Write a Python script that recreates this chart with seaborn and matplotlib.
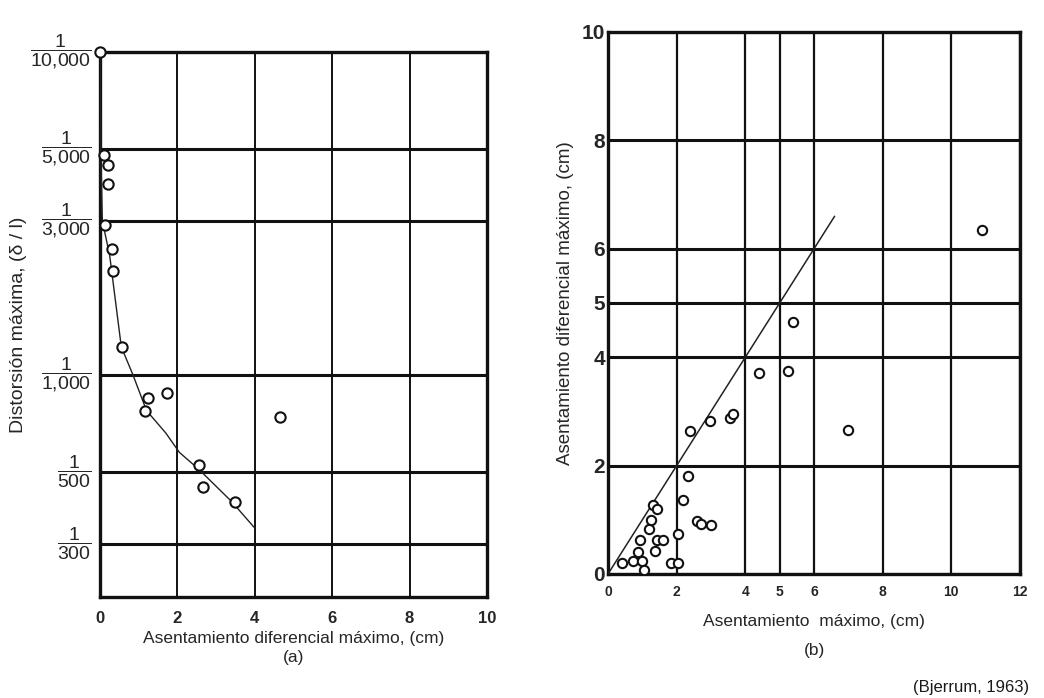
import matplotlib
matplotlib.use("Agg")
import matplotlib.pyplot as plt
import seaborn as sns
import numpy as np
from matplotlib.ticker import NullLocator

# ---------------- data ----------------
# Panel (a): max differential settlement (cm) vs max distortion 1/N
a_settle = [0.0, 0.10, 0.20, 0.20, 0.13, 0.30, 0.33, 0.58, 1.23, 1.16, 1.72, 4.64, 2.55, 2.65, 3.50]
a_denom = [10000, 4800, 4450, 3900, 2900, 2450, 2100, 1220, 850, 770, 880, 740, 525, 450, 405]
a_curve_settle = [0.0, 0.02, 0.06, 0.25, 0.55, 0.85, 1.20, 1.70, 2.05, 2.55, 3.40, 4.00]
a_curve_denom = [10000, 5000, 3000, 2340, 1220, 1000, 775, 660, 575, 510, 405, 335]
a_ytick_denoms = [10000, 5000, 3000, 1000, 500, 300]
a_ytick_texts = ["10{,}000", "5{,}000", "3{,}000", "1{,}000", "500", "300"]
a_xticks = [0, 2, 4, 6, 8, 10]

# Panel (b): max settlement (cm) vs max differential settlement (cm)
b_settle = [0.41, 0.74, 0.87, 0.94, 0.99, 1.06, 1.18, 1.26, 1.32, 1.42, 1.37, 1.42, 1.61,
            1.84, 2.03, 2.03, 2.17, 2.32, 2.60, 2.72, 3.00, 2.40, 2.98, 3.55, 3.64,
            4.40, 5.25, 5.40, 7.00, 10.90]
b_diff = [0.21, 0.23, 0.40, 0.63, 0.23, 0.07, 0.83, 1.00, 1.27, 1.20, 0.43, 0.63, 0.63,
          0.20, 0.20, 0.73, 1.37, 1.80, 0.97, 0.92, 0.90, 2.63, 2.82, 2.87, 2.95,
          3.70, 3.75, 4.65, 2.66, 6.35]
b_line_settle = [0.0, 6.6]
b_line_diff = [0.0, 6.6]
b_xticks = [0, 2, 4, 5, 6, 8, 10, 12]
b_yticks = [0, 2, 4, 5, 6, 8, 10]

# ---------------- style ----------------
sns.set_theme(style="white")
plt.rcParams["font.family"] = ["Liberation Sans", "DejaVu Sans"]
plt.rcParams["mathtext.fontset"] = "custom"
plt.rcParams["mathtext.rm"] = "Liberation Sans"
plt.rcParams["mathtext.bf"] = "Liberation Sans:bold"
plt.rcParams["text.color"] = "#1a1a1a"

fig = plt.figure(figsize=(10.44, 6.98), dpi=100)
fig.patch.set_facecolor("white")

# ---------------- panel (a) ----------------
axa = fig.add_axes([0.0958, 0.1447, 0.3707, 0.781])
a_dist = [1.0 / n for n in a_denom]
a_curve_dist = [1.0 / n for n in a_curve_denom]

sns.lineplot(x=a_curve_settle, y=a_curve_dist, sort=False, estimator=None,
             color="#222222", linewidth=1.0, ax=axa, zorder=3)
sns.scatterplot(x=a_settle, y=a_dist, marker="o", s=55, facecolor="white",
                edgecolor="#111111", linewidth=1.5, ax=axa, zorder=4, clip_on=False)

axa.set_yscale("log")
axa.set_xlim(0, 10)
axa.set_ylim(1 / 205, 1 / 10000)
axa.set_xticks(a_xticks)
axa.set_xticklabels([str(v) for v in a_xticks], fontsize=12, fontweight="bold")
axa.set_yticks([1.0 / n for n in a_ytick_denoms])
axa.set_yticklabels([r"$\dfrac{1}{%s}$" % t for t in a_ytick_texts], fontsize=14,
                    va="center")
axa.yaxis.set_minor_locator(NullLocator())
axa.tick_params(axis="both", length=0)
axa.tick_params(axis="y", pad=6)
axa.tick_params(axis="x", pad=10)
axa.grid(True, axis="y", color="#111111", linewidth=2.2)
axa.grid(True, axis="x", color="#111111", linewidth=1.4)
for sp in axa.spines.values():
    sp.set_color("#111111")
    sp.set_linewidth(2.4)
axa.set_ylabel("Distorsión máxima, (δ / l)", fontsize=14, labelpad=2)
axa.set_xlabel("Asentamiento diferencial máximo, (cm)\n(a)", fontsize=12.5,
               labelpad=4, linespacing=1.3)

# ---------------- panel (b) ----------------
axb = fig.add_axes([0.5824, 0.1777, 0.3946, 0.7765])
sns.lineplot(x=b_line_settle, y=b_line_diff, sort=False, estimator=None,
             color="#222222", linewidth=1.1, ax=axb, zorder=3)
sns.scatterplot(x=b_settle, y=b_diff, marker="o", s=45, facecolor="white",
                edgecolor="#111111", linewidth=1.5, ax=axb, zorder=4)
axb.set_xlim(0, 12)
axb.set_ylim(0, 10)
axb.set_xticks(b_xticks)
axb.set_xticklabels([str(v) for v in b_xticks], fontsize=10, fontweight="bold")
axb.set_yticks(b_yticks)
axb.set_yticklabels([str(v) for v in b_yticks], fontsize=15, fontweight="bold")
axb.tick_params(axis="both", length=0)
axb.tick_params(axis="x", pad=8)
axb.tick_params(axis="y", pad=2)
axb.grid(True, axis="y", color="#111111", linewidth=2.2)
axb.grid(True, axis="x", color="#111111", linewidth=1.6)
for sp in axb.spines.values():
    sp.set_color("#111111")
    sp.set_linewidth(2.4)
axb.set_ylabel("Asentamiento diferencial máximo, (cm)", fontsize=13.5, labelpad=6)
axb.set_xlabel("Asentamiento  máximo, (cm)\n(b)", fontsize=12.5, labelpad=11,
               linespacing=2.1)

fig.text(0.93, 0.005, "(Bjerrum, 1963)", fontsize=12, ha="center", va="bottom")

fig.savefig("out.png", dpi=100, facecolor="white")
